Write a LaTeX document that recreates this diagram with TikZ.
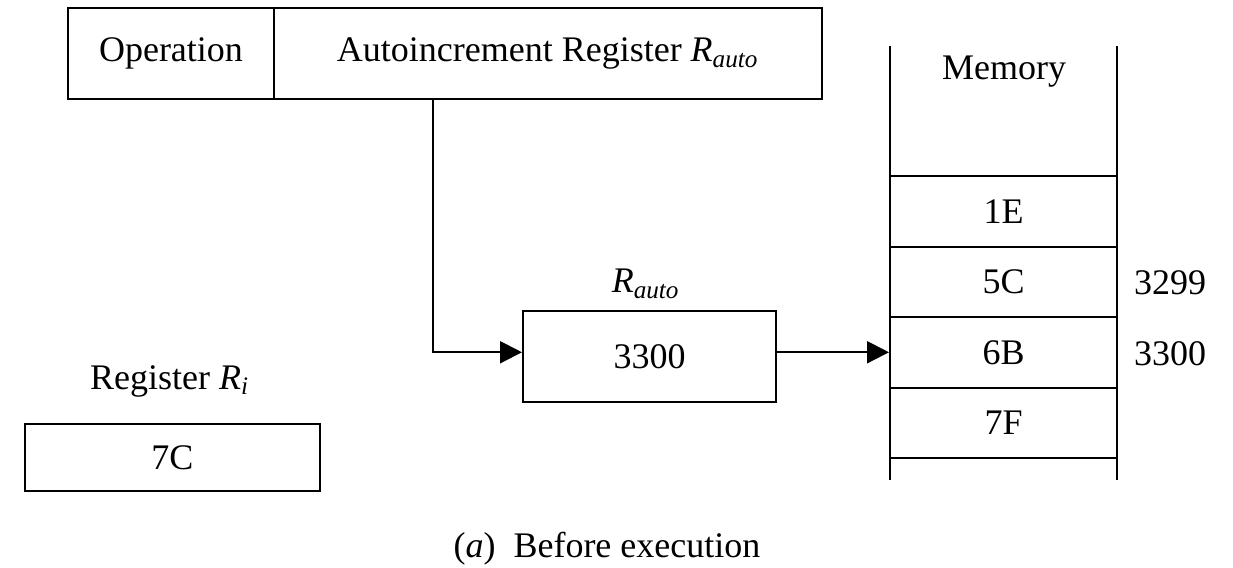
\documentclass[tikz,border=0pt]{standalone}
\usepackage{fontspec}
\setmainfont{Liberation Serif}
\usetikzlibrary{arrows.meta}
\newcommand{\Rsub}[1]{\textit{R}\textsubscript{\textit{#1}}}
\begin{document}
\begin{tikzpicture}[x=0.3pt,y=-0.3pt,
  every node/.style={font=\fontsize{10.8}{13}\selectfont},
  box/.style={draw,line width=0.6pt,inner sep=0pt},
  cell/.style={draw,line width=0.6pt,inner sep=0pt,minimum width=227*0.3pt,minimum height=70.5*0.3pt},
  conn/.style={line width=0.6pt,-{Triangle[length=6.6pt,width=6.6pt]}},
  plain/.style={inner sep=0pt}]
\useasboundingbox (0,0) rectangle (1233,567);
% instruction format
\node[box,minimum width=206*0.3pt,minimum height=91*0.3pt] (op) at (171,53.5) {Operation};
\node[box,minimum width=548*0.3pt,minimum height=91*0.3pt] (ar) at (548,53.5) {Autoincrement Register \Rsub{auto}};
\coordinate (tap) at (433,99);
% R_auto register
\node[box,minimum width=253*0.3pt,minimum height=91*0.3pt] (ra) at (649.5,356.5) {3300};
\node[plain] (ralab) at (646,284) {\Rsub{auto}};
% register Ri
\node[plain] (rilab) at (170,381) {Register \Rsub{i}};
\node[box,minimum width=295*0.3pt,minimum height=67*0.3pt] (ri) at (172.5,457.5) {7C};
% memory
\node[plain] (memlab) at (1004,72) {Memory};
\node[cell] (m1) at (1003.5,211.25) {1E};
\node[cell] (m2) at (1003.5,281.75) {5C};
\node[cell] (m3) at (1003.5,352.25) {6B};
\node[cell] (m4) at (1003.5,422.75) {7F};
\coordinate (mtl) at (890,46);
\coordinate (mtr) at (1117,46);
\coordinate (mbl) at (890,480);
\coordinate (mbr) at (1117,480);
\draw[line width=0.6pt] (mtl) -- (mbl);
\draw[line width=0.6pt] (mtr) -- (mbr);
\node[plain] (a3299) at (1170,283) {3299};
\node[plain] (a3300) at (1170,354) {3300};
% connectors
\draw[conn] (tap) |- (ra.west |- m3.west);
\draw[conn] (ra.east |- m3.west) -- (m3.west);
% caption
\node[plain] (cap) at (607,549) {(\textit{a})\enspace Before execution};
\end{tikzpicture}
\end{document}
